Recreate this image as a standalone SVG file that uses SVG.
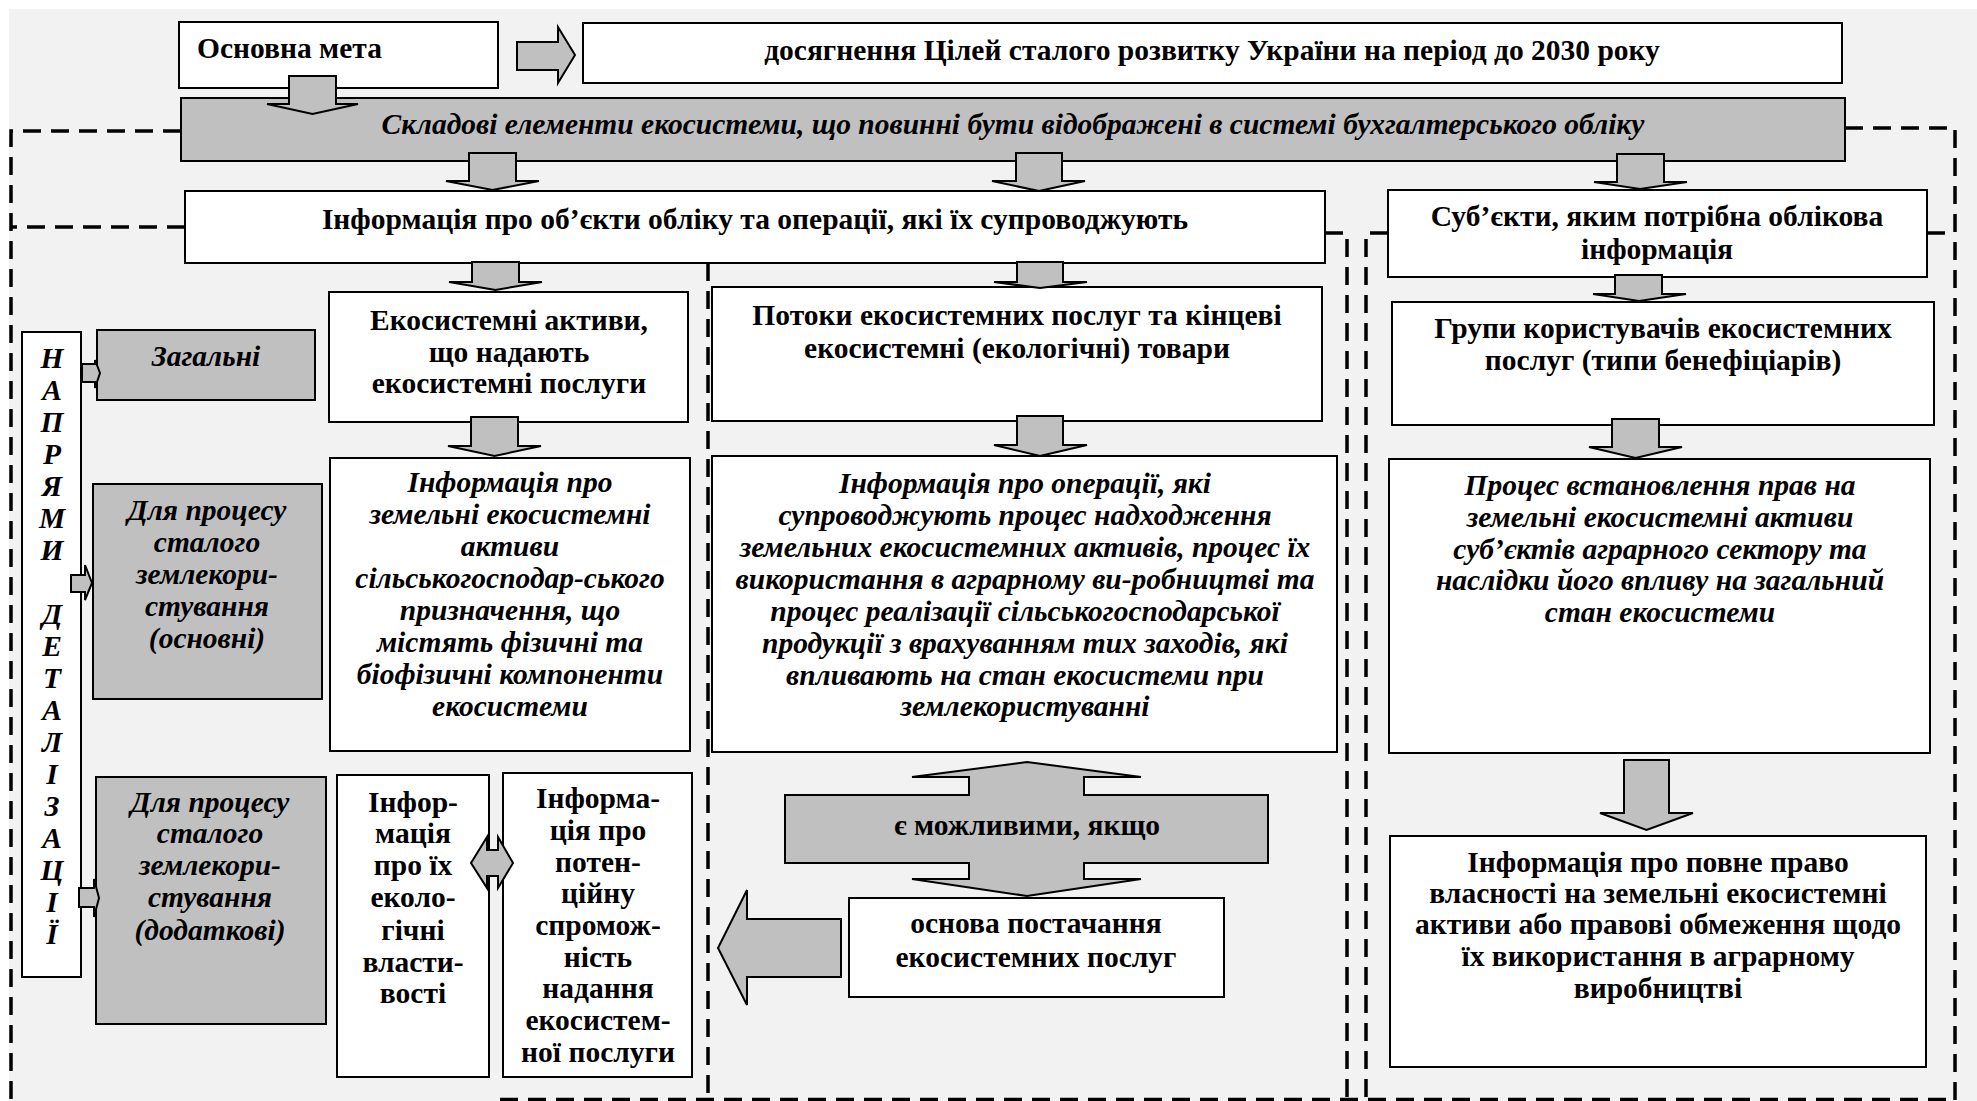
<svg xmlns="http://www.w3.org/2000/svg" width="1977" height="1101" viewBox="0 0 1977 1101">
<style>
.bx{fill:#fff;stroke:#000;stroke-width:2}
.gb{fill:#c0c0c0;stroke:#000;stroke-width:2}
.ar{fill:#c0c0c0;stroke:#000;stroke-width:2;stroke-linejoin:miter}
.dl{fill:none;stroke:#000;stroke-width:3.5;stroke-dasharray:18 10}
text{font-family:"Liberation Serif","Times New Roman",serif;font-weight:bold;font-size:29.5px;fill:#000}
.c{text-anchor:middle}
.i{font-style:italic}
</style>
<rect x="9" y="9" width="1968" height="1092" fill="#f2f2f2"/>
<g id="connectors">
<path class="dl" d="M181,131 H11 V1101"/>
<path class="dl" d="M185,227 H11"/>
<path class="dl" d="M708,263 V1101"/>
<path class="dl" d="M1325,233 H1347 V1101"/>
<path class="dl" d="M1388,233 H1366 V1101"/>
<path class="dl" d="M1845,128 H1955 V1101"/>
<path class="dl" d="M1927,233 H1955"/>
<path class="dl" d="M500,1099.5 H1955" stroke-width="3"/>
</g>
<g id="n-main"><rect class="bx" x="179" y="22" width="319" height="66"/><text x="197" y="58" font-size="31.5">Основна мета</text></g>
<g id="n-goal"><rect class="bx" x="583" y="23" width="1259" height="60"/><text class="c" x="1212" y="60" font-size="30.6">досягнення Цілей сталого розвитку України на період до 2030 року</text></g>
<g id="n-band"><rect class="gb" x="181" y="98" width="1664" height="63"/><text class="c i" x="1013" y="134" font-size="30.6">Складові елементи екосистеми, що повинні бути відображені в системі бухгалтерського обліку</text></g>
<g id="connectors-arrows">
<polygon class="ar" points="517,42 558,42 558,27 575,55 558,83 558,70 517,70"/>
<polygon class="ar" points="289,76 336,76 336,104 358,104 312.5,114 267,104 289,104"/>
</g>
<g id="n-info"><rect class="bx" x="185" y="191" width="1140" height="72"/><text class="c" x="755" y="229">Інформація про об’єкти обліку та операції, які їх супроводжують</text></g>
<g id="n-subj"><rect class="bx" x="1388" y="190" width="539" height="87"/><text class="c" x="1657" y="226">Суб’єкти, яким потрібна облікова</text><text class="c" x="1657" y="259">інформація</text></g>
<g id="n-eco"><rect class="bx" x="329" y="292" width="359" height="130"/><text class="c" x="509" y="330">Екосистемні активи,</text><text class="c" x="509" y="362">що надають</text><text class="c" x="509" y="393">екосистемні послуги</text></g>
<g id="n-flows"><rect class="bx" x="712" y="287" width="610" height="134"/><text class="c" x="1017" y="325">Потоки екосистемних послуг та кінцеві</text><text class="c" x="1017" y="358">екосистемні (екологічні) товари</text></g>
<g id="n-groups"><rect class="bx" x="1392" y="302" width="542" height="123"/><text class="c" x="1663" y="338">Групи користувачів екосистемних</text><text class="c" x="1663" y="370">послуг (типи бенефіціарів)</text></g>
<g id="n-dir"><rect class="bx" x="22" y="332" width="59" height="645"/>
<text class="c i" x="52" y="368">Н</text><text class="c i" x="52" y="400">А</text><text class="c i" x="52" y="432">П</text><text class="c i" x="52" y="464">Р</text><text class="c i" x="52" y="496">Я</text><text class="c i" x="52" y="528">М</text><text class="c i" x="52" y="560">И</text><text class="c i" x="52" y="624">Д</text><text class="c i" x="52" y="656">Е</text><text class="c i" x="52" y="688">Т</text><text class="c i" x="52" y="720">А</text><text class="c i" x="52" y="752">Л</text><text class="c i" x="52" y="784">І</text><text class="c i" x="52" y="816">З</text><text class="c i" x="52" y="848">А</text><text class="c i" x="52" y="880">Ц</text><text class="c i" x="52" y="912">І</text><text class="c i" x="52" y="944">Ї</text></g>
<g id="n-general"><rect class="gb" x="97" y="330" width="218" height="70"/><text class="c i" x="206" y="366">Загальні</text></g>
<g id="n-main-proc"><rect class="gb" x="93" y="484" width="229" height="215"/><text class="c i" x="207" y="520">Для процесу</text><text class="c i" x="207" y="552">сталого</text><text class="c i" x="207" y="584">землекори-</text><text class="c i" x="207" y="616">стування</text><text class="c i" x="207" y="648">(основні)</text></g>
<g id="n-add-proc"><rect class="gb" x="96" y="777" width="230" height="247"/><text class="c i" x="210" y="812">Для процесу</text><text class="c i" x="210" y="843">сталого</text><text class="c i" x="210" y="875">землекори-</text><text class="c i" x="210" y="907">стування</text><text class="c i" x="210" y="940">(додаткові)</text></g>
<g id="n-land-info"><rect class="bx" x="330" y="458" width="360" height="293"/>
<text class="c i" x="510" y="492">Інформація про</text><text class="c i" x="510" y="524">земельні екосистемні</text><text class="c i" x="510" y="556">активи</text><text class="c i" x="510" y="588">сільськогосподар-ського</text><text class="c i" x="510" y="620">призначення, що</text><text class="c i" x="510" y="652">містять фізичні та</text><text class="c i" x="510" y="684">біофізичні компоненти</text><text class="c i" x="510" y="716">екосистеми</text></g>
<g id="n-ops-info"><rect class="bx" x="712" y="456" width="625" height="296"/>
<text class="c i" x="1025" y="493">Інформація про операції, які</text><text class="c i" x="1025" y="525">супроводжують процес надходження</text><text class="c i" x="1025" y="557">земельних екосистемних активів, процес їх</text><text class="c i" x="1025" y="589">використання в аграрному ви-робництві та</text><text class="c i" x="1025" y="621">процес реалізації сільськогосподарської</text><text class="c i" x="1025" y="653">продукції з врахуванням тих заходів, які</text><text class="c i" x="1025" y="685">впливають на стан екосистеми при</text><text class="c i" x="1025" y="716">землекористуванні</text></g>
<g id="n-rights"><rect class="bx" x="1389" y="459" width="541" height="294"/>
<text class="c i" x="1660" y="495">Процес встановлення прав на</text><text class="c i" x="1660" y="527">земельні екосистемні активи</text><text class="c i" x="1660" y="559">суб’єктів аграрного сектору та</text><text class="c i" x="1660" y="590">наслідки його впливу на загальний</text><text class="c i" x="1660" y="622">стан екосистеми</text></g>
<g id="n-eco-props"><rect class="bx" x="337" y="775" width="152" height="302"/>
<text class="c" x="413" y="812">Інфор-</text><text class="c" x="413" y="843">мація</text><text class="c" x="413" y="875">про їх</text><text class="c" x="413" y="907">еколо-</text><text class="c" x="413" y="940">гічні</text><text class="c" x="413" y="972">власти-</text><text class="c" x="413" y="1003">вості</text></g>
<g id="n-potential"><rect class="bx" x="503" y="773" width="189" height="304"/>
<text class="c" x="598" y="808">Інформа-</text><text class="c" x="598" y="840">ція про</text><text class="c" x="598" y="872">потен-</text><text class="c" x="598" y="903">ційну</text><text class="c" x="598" y="935">спромож-</text><text class="c" x="598" y="967">ність</text><text class="c" x="598" y="998">надання</text><text class="c" x="598" y="1030">екосистем-</text><text class="c" x="598" y="1062">ної послуги</text></g>
<g id="n-possible"><polygon class="ar" points="1027,762 1141,777 1084,777 1084,795 1268,795 1268,863 1084,863 1084,879 1141,879 1027,896 912,879 969,879 969,863 785,863 785,795 969,795 969,777 912,777"/><text class="c" x="1027" y="835">є можливими, якщо</text></g>
<g id="n-basis"><rect class="bx" x="849" y="898" width="375" height="99"/><text class="c" x="1036" y="933">основа постачання</text><text class="c" x="1036" y="967">екосистемних послуг</text></g>
<g id="n-ownership"><rect class="bx" x="1390" y="836" width="536" height="231"/>
<text class="c" x="1658" y="872">Інформація про повне право</text><text class="c" x="1658" y="903">власності на земельні екосистемні</text><text class="c" x="1658" y="934">активи або правові  обмеження щодо</text><text class="c" x="1658" y="966">їх використання в аграрному</text><text class="c" x="1658" y="998">виробництві</text></g>
<g id="arrows">
<polygon class="ar" points="469,153 516,153 516,181 539,181 492.5,190 446,181 469,181"/>
<polygon class="ar" points="1016,153 1062,153 1062,181 1085,181 1039,191 992,181 1016,181"/>
<polygon class="ar" points="1617,154 1664,154 1664,182 1687,182 1640,189 1594,182 1617,182"/>
<polygon class="ar" points="472,262 519,262 519,282 542,282 495.5,290 449,282 472,282"/>
<polygon class="ar" points="1017,262 1063,262 1063,282 1087,282 1040,288 994,282 1017,282"/>
<polygon class="ar" points="1615,275 1662,275 1662,294 1686,294 1639,301 1593,294 1615,294"/>
<polygon class="ar" points="471,417 518,417 518,446 541,446 494.5,456 448,446 471,446"/>
<polygon class="ar" points="1017,416 1063,416 1063,445 1087,445 1040,456 994,445 1017,445"/>
<polygon class="ar" points="1612,419 1659,419 1659,447 1682,447 1635.5,458 1589,447 1612,447"/>
<polygon class="ar" points="1624,760 1669,760 1669,813 1693,813 1646.5,830 1600,813 1624,813"/>
<polygon class="ar" points="82,364 95,364 95,360 100,373 95,388 95,382 82,382"/>
<polygon class="ar" points="71,575 85,575 85,565 92,583 85,600 85,592 71,592"/>
<polygon class="ar" points="79,888 94,888 94,879 99,898 94,917 94,907 79,907"/>
<polygon class="ar" points="471,863 487,837 487,850 498,850 498,837 513,863 498,888 498,876 487,876 487,888"/>
<polygon class="ar" points="718,948 747,890 747,919 841,919 841,977 747,977 747,1005"/>
</g>
</svg>
